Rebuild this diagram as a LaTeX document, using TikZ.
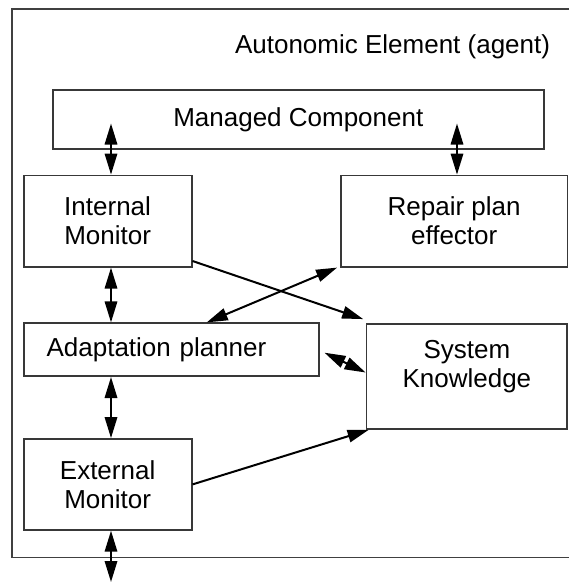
\documentclass[tikz,border=0pt]{standalone}
\usepackage{fontspec}
\setmainfont{Liberation Sans}
\usetikzlibrary{arrows.meta,calc}
\begin{document}
\begin{tikzpicture}[x=0.5pt,y=-0.5pt,
  txt/.style={font=\fontsize{13}{14.5}\selectfont},
  box/.style={draw=black!78, line width=0.9pt, inner sep=0pt, align=center, txt},
  lbl/.style={inner sep=0pt, align=center, txt},
  biarrow/.style={line width=1pt, {Triangle[length=10.5pt,width=6.2pt]}-{Triangle[length=10.5pt,width=6.2pt]}},
  onearrow/.style={line width=1pt, -{Triangle[length=10.5pt,width=6.2pt]}}]
\useasboundingbox (0,0) rectangle (569,583);

% enclosing frame of the autonomic element (open on the right)
\draw[line width=0.9pt, draw=black!75] (569,9) -- (12,9) -- (12,557.5) -- (569,557.5);
\node[lbl, anchor=base east] (title) at (550.5,53.5) {Autonomic Element (agent)};

% components
\node[box, minimum width=245.7pt, minimum height=29.5pt] (mc) at (298.3,119.5) {Managed Component};
\node[box, minimum width=84pt, minimum height=45.6pt] (im) at (107.6,221.1) {Internal\\Monitor};
\node[box, minimum width=113.2pt, minimum height=45.6pt] (rp) at (454.2,221.1) {Repair plan\\effector};
\node[box, minimum height=26.4pt, text width=124.5pt, inner xsep=11.5pt, align=left] (ap) at (171.1,349.7) {Adaptation planner};
\node[box, minimum width=100.4pt, minimum height=52.5pt] (sk) at (466.9,376.5) {};
\node[lbl] (sklabel) at (466.9,366.5) {System\\Knowledge};
\node[box, minimum width=84pt, minimum height=45.4pt] (em) at (107.6,484.4) {External\\Monitor};

% free ends of the vertical links
\coordinate (mcL) at (111,123.5);
\coordinate (mcR) at (457,123.5);
\coordinate (outside) at (111,582);

% connectors
\draw[biarrow] (mcL) -- (mcL |- im.north);
\draw[biarrow] (mcR) -- (mcR |- rp.north);
\draw[biarrow] (mcL |- im.south) -- (mcL |- ap.north);
\draw[biarrow] (mcL |- ap.south) -- (mcL |- em.north);
\draw[biarrow] (mcL |- em.south) -- (outside);

\draw[onearrow] ([yshift=3.3pt]im.south east) -- ([xshift=-1.2pt,yshift=2pt]sk.north west);
\draw[biarrow] ($(ap.north west)!0.62!(ap.north east)$) -- ([xshift=-1.5pt]rp.south west);
\draw[biarrow] ([xshift=2.5pt,yshift=-1.5pt]ap.east) -- ([yshift=2pt]sk.west);
\draw[onearrow] (em.east) -- ([xshift=1.5pt]sk.south west);
\end{tikzpicture}
\end{document}
